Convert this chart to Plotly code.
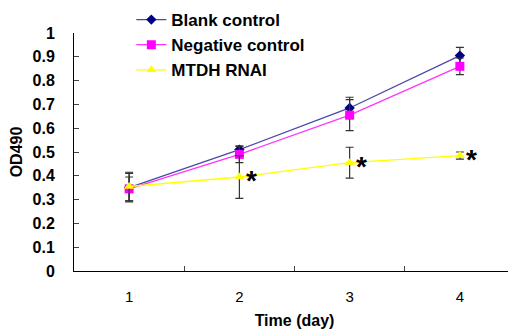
import plotly.graph_objects as go

days = ["1", "2", "3", "4"]
blank = [0.35, 0.51, 0.685, 0.905]
blank_err = [0.06, 0.015, 0.045, 0.035]
negative = [0.345, 0.49, 0.655, 0.86]
negative_err = [0.05, 0.035, 0.065, 0.035]
mtdh = [0.355, 0.395, 0.455, 0.485]
mtdh_err = [0.06, 0.09, 0.065, 0.015]
star_days = ["2", "3", "4"]
star_vals = [0.395, 0.455, 0.485]
yticks = [0, 0.1, 0.2, 0.3, 0.4, 0.5, 0.6, 0.7, 0.8, 0.9, 1]

FONT = "Liberation Sans, Arial, sans-serif"

def err(arr):
    return dict(type="data", array=arr, visible=True, color="#333333", thickness=1.2, width=4)

fig = go.Figure()
fig.add_trace(go.Scatter(x=days, y=blank, name="Blank control", mode="lines+markers",
                         line=dict(color="#4848a8", width=1.3),
                         marker=dict(symbol="diamond", size=8, color="#000080"),
                         error_y=err(blank_err)))
fig.add_trace(go.Scatter(x=days, y=negative, name="Negative control", mode="lines+markers",
                         line=dict(color="#ff33ff", width=1.3),
                         marker=dict(symbol="square", size=9, color="#ff00ff"),
                         error_y=err(negative_err)))
fig.add_trace(go.Scatter(x=days, y=mtdh, name="MTDH RNAI", mode="lines+markers",
                         line=dict(color="#ffff00", width=1.3),
                         marker=dict(symbol="triangle-up", size=9, color="#ffff00"),
                         error_y=err(mtdh_err)))

for d, v in zip(star_days, star_vals):
    fig.add_annotation(x=days.index(d), y=v, text="<b>*</b>", showarrow=False,
                       xshift=12, yshift=-4, xref="x", yref="y",
                       font=dict(family=FONT, size=28, color="black"))

fig.update_layout(
    width=516, height=331,
    margin=dict(l=66, r=9, t=25, b=68, autoexpand=False),
    paper_bgcolor="white", plot_bgcolor="white",
    font=dict(family=FONT, color="black"),
    showlegend=True,
    legend=dict(x=0.13, y=1.13, xanchor="left", yanchor="top", bgcolor="rgba(0,0,0,0)",
                font=dict(family=FONT, size=17, color="black", weight="bold"),
                tracegroupgap=0, itemwidth=30),
    xaxis=dict(type="category", range=[-0.5, 3.5], tickson="boundaries", ticks="inside", ticklen=5,
               showline=True, linecolor="black", linewidth=1, showgrid=False,
               ticklabelstandoff=12,
               tickfont=dict(family=FONT, size=15, color="black"),
               title=dict(text="<b>Time (day)</b>", font=dict(family=FONT, size=16), standoff=10)),
    yaxis=dict(range=[0, 1], tickvals=yticks, ticktext=[f"<b>{t:g}</b>" for t in yticks],
               ticks="inside", ticklen=5, showline=True, linecolor="black", linewidth=1,
               showgrid=False, zeroline=False, ticklabelstandoff=15,
               tickfont=dict(family=FONT, size=16, color="black"),
               title=dict(text="<b>OD490</b>", font=dict(family=FONT, size=16), standoff=6)),
)
fig.write_html("out.html")
